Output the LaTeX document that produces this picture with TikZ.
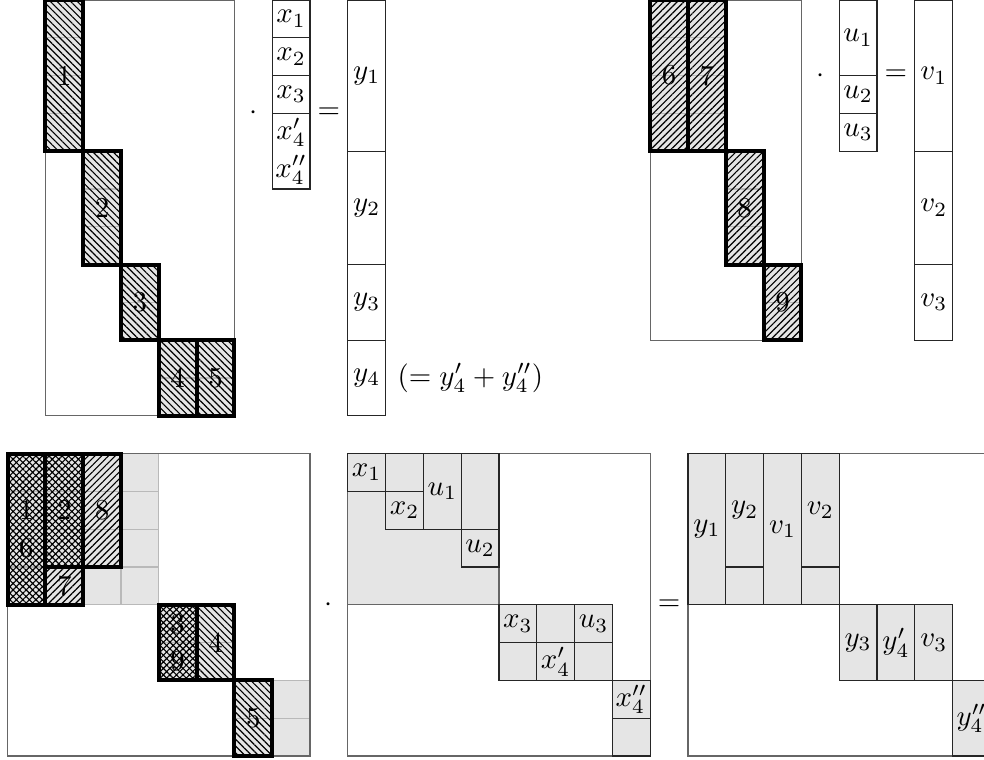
\documentclass[tikz,border=0pt]{standalone}
\usetikzlibrary{patterns.meta}
\tikzset{
  mat/.style={draw=black!60, line width=0.4pt},
  vec/.style={draw=black!85, line width=0.4pt},
  cellfill/.style={fill=gray!20},
  gridcell/.style={draw=gray!55, line width=0.4pt, step=1},
  blk/.style={draw=black, line width=1.4pt},
  nwhatch/.style={pattern={Lines[angle=-45, distance=1.65pt, line width=0.4pt]}},
  nehatch/.style={pattern={Lines[angle=45, distance=1.65pt, line width=0.4pt]}},
  xhatch/.style={pattern={Hatch[angle=45, distance=1.6pt, line width=0.4pt]}}
}

\begin{document}
\begin{tikzpicture}[x=0.46cm, y=0.46cm]
  \useasboundingbox (-0.2,0) rectangle (25.83,-20.1);

  % first product, blocks 1 to 5
  \fill[cellfill] (1,0) rectangle (2,-4) (2,-4) rectangle (3,-7) (3,-7) rectangle (4,-9) (4,-9) rectangle (6,-11);
  \draw[gridcell] (1,0) grid (2,-4) (2,-4) grid (3,-7) (3,-7) grid (4,-9) (4,-9) grid (6,-11);
  \draw[mat] (1,0) rectangle (6,-11);
  \node (a1) at (1.5,-2) {1};
  \node (a2) at (2.5,-5.5) {2};
  \node (a3) at (3.5,-8) {3};
  \node (a4) at (4.5,-10) {4};
  \node (a5) at (5.5,-10) {5};
  \path[nwhatch] (1,0) rectangle (2,-4) (2,-4) rectangle (3,-7) (3,-7) rectangle (4,-9) (4,-9) rectangle (6,-11);
  \draw[blk] (1,0) rectangle (2,-4) (2,-4) rectangle (3,-7) (3,-7) rectangle (4,-9) (4,-9) rectangle (5,-11) (5,-9) rectangle (6,-11);

  \node (dotA) at (6.5,-3) {$\cdot$};
  \draw[vec] (7,0) rectangle (8,-1) (7,-1) rectangle (8,-2) (7,-2) rectangle (8,-3) (7,-3) rectangle (8,-5);
  \node (x1) at (7.5,-0.5) {$x_1$};
  \node (x2) at (7.5,-1.5) {$x_2$};
  \node (x3) at (7.5,-2.5) {$x_3$};
  \node (x4a) at (7.5,-3.5) {$x_4'$};
  \node (x4b) at (7.5,-4.5) {$x_4''$};
  \node (eqA) at (8.5,-3) {$=$};
  \draw[vec] (9,0) rectangle (10,-4) (9,-4) rectangle (10,-7) (9,-7) rectangle (10,-9) (9,-9) rectangle (10,-11);
  \node (y1) at (9.5,-2) {$y_1$};
  \node (y2) at (9.5,-5.5) {$y_2$};
  \node (y3) at (9.5,-8) {$y_3$};
  \node (y4) at (9.5,-10) {$y_4$};
  \node[anchor=west] (ysum) at (10.05,-10) {$(=y_4'+y_4'')$};

  % second product, blocks 6 to 9
  \fill[cellfill] (17,0) rectangle (19,-4) (19,-4) rectangle (20,-7) (20,-7) rectangle (21,-9);
  \draw[gridcell] (17,0) grid (19,-4) (19,-4) grid (20,-7) (20,-7) grid (21,-9);
  \draw[mat] (17,0) rectangle (21,-9);
  \node (b6) at (17.5,-2) {6};
  \node (b7) at (18.5,-2) {7};
  \node (b8) at (19.5,-5.5) {8};
  \node (b9) at (20.5,-8) {9};
  \path[nehatch] (17,0) rectangle (19,-4) (19,-4) rectangle (20,-7) (20,-7) rectangle (21,-9);
  \draw[blk] (17,0) rectangle (18,-4) (18,0) rectangle (19,-4) (19,-4) rectangle (20,-7) (20,-7) rectangle (21,-9);

  \node (dotB) at (21.5,-2) {$\cdot$};
  \draw[vec] (22,0) rectangle (23,-2) (22,-2) rectangle (23,-3) (22,-3) rectangle (23,-4);
  \node (u1) at (22.5,-1) {$u_1$};
  \node (u2) at (22.5,-2.5) {$u_2$};
  \node (u3) at (22.5,-3.5) {$u_3$};
  \node (eqB) at (23.5,-2) {$=$};
  \draw[vec] (24,0) rectangle (25,-4) (24,-4) rectangle (25,-7) (24,-7) rectangle (25,-9);
  \node (v1) at (24.5,-2) {$v_1$};
  \node (v2) at (24.5,-5.5) {$v_2$};
  \node (v3) at (24.5,-8) {$v_3$};

  % merged matrix
  \fill[cellfill] (0,-12) rectangle (4,-16) (4,-16) rectangle (6,-18) (6,-18) rectangle (8,-20);
  \draw[gridcell] (0,-12) grid (4,-16) (4,-16) grid (6,-18) (6,-18) grid (8,-20);
  \draw[mat] (0,-12) rectangle (8,-20);
  \node (c1) at (0.5,-13.5) {1};
  \node (c6) at (0.5,-14.5) {6};
  \node (c2) at (1.5,-13.5) {2};
  \node (c8) at (2.5,-13.5) {8};
  \node (c7) at (1.5,-15.5) {7};
  \node (c3) at (4.5,-16.5) {3};
  \node (c9) at (4.5,-17.5) {9};
  \node (c4) at (5.5,-17) {4};
  \node (c5) at (6.5,-19) {5};
  \path[xhatch] (0,-12) rectangle (1,-16) (1,-12) rectangle (2,-15) (4,-16) rectangle (5,-18);
  \path[nehatch] (1,-15) rectangle (2,-16) (2,-12) rectangle (3,-15);
  \path[nwhatch] (5,-16) rectangle (6,-18) (6,-18) rectangle (7,-20);
  \draw[blk] (0,-12) rectangle (1,-16) (1,-12) rectangle (2,-15) (1,-15) rectangle (2,-16) (2,-12) rectangle (3,-15)
    (4,-16) rectangle (5,-18) (5,-16) rectangle (6,-18) (6,-18) rectangle (7,-20);

  \node (dotC) at (8.5,-16) {$\cdot$};

  % block diagonal right-hand side
  \fill[cellfill] (9,-12) rectangle (13,-16) (13,-16) rectangle (16,-18) (16,-18) rectangle (17,-20);
  \draw[mat] (9,-12) rectangle (17,-20) (9,-12) rectangle (13,-16);
  \draw[vec] (9,-12) rectangle (10,-13) (10,-12) rectangle (11,-13) (10,-13) rectangle (11,-14)
    (11,-12) rectangle (12,-14) (12,-12) rectangle (13,-14) (12,-14) rectangle (13,-15);
  \draw[vec] (13,-16) rectangle (14,-17) (14,-16) rectangle (15,-17) (15,-16) rectangle (16,-17)
    (13,-17) rectangle (14,-18) (14,-17) rectangle (15,-18) (15,-17) rectangle (16,-18);
  \draw[vec] (16,-18) rectangle (17,-19) (16,-19) rectangle (17,-20);
  \node (ex1) at (9.5,-12.5) {$x_1$};
  \node (ex2) at (10.5,-13.5) {$x_2$};
  \node (eu1) at (11.5,-13) {$u_1$};
  \node (eu2) at (12.5,-14.5) {$u_2$};
  \node (ex3) at (13.5,-16.5) {$x_3$};
  \node (eu3) at (15.5,-16.5) {$u_3$};
  \node (ex4a) at (14.5,-17.5) {$x_4'$};
  \node (ex4b) at (16.5,-18.5) {$x_4''$};

  \node (eqC) at (17.5,-16) {$=$};

  % result
  \fill[cellfill] (18,-12) rectangle (22,-16) (22,-16) rectangle (25,-18) (25,-18) rectangle (26,-20);
  \draw[mat] (18,-12) rectangle (26,-20);
  \draw[vec] (18,-12) rectangle (19,-16) (19,-12) rectangle (20,-15) (19,-15) rectangle (20,-16)
    (20,-12) rectangle (21,-16) (21,-12) rectangle (22,-15) (21,-15) rectangle (22,-16);
  \draw[vec] (22,-16) rectangle (23,-18) (23,-16) rectangle (24,-18) (24,-16) rectangle (25,-18)
    (25,-18) rectangle (26,-20);
  \node (fy1) at (18.5,-14) {$y_1$};
  \node (fy2) at (19.5,-13.5) {$y_2$};
  \node (fv1) at (20.5,-14) {$v_1$};
  \node (fv2) at (21.5,-13.5) {$v_2$};
  \node (fy3) at (22.5,-17) {$y_3$};
  \node (fy4a) at (23.5,-17) {$y_4'$};
  \node (fv3) at (24.5,-17) {$v_3$};
  \node (fy4b) at (25.5,-19) {$y_4''$};
\end{tikzpicture}
\end{document}
